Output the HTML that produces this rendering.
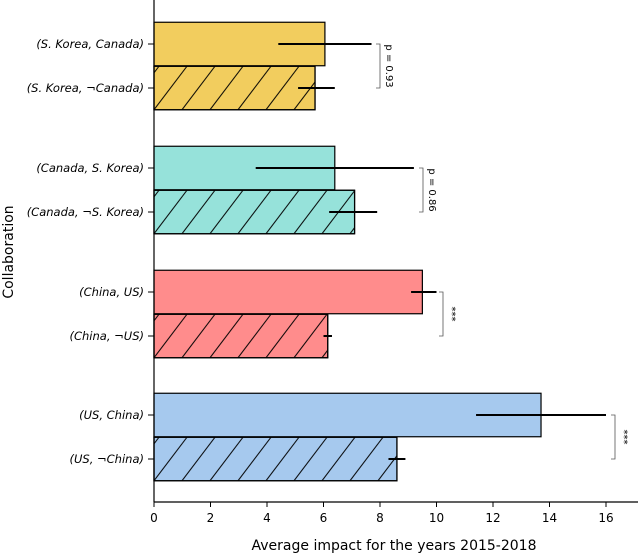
<!DOCTYPE html>
<html><head><meta charset="utf-8"><style>
body{margin:0;background:#fff;}
svg{display:block;font-family:"DejaVu Sans","Liberation Sans",sans-serif;}
</style></head><body>
<svg id="chart" width="640" height="554" xmlns="http://www.w3.org/2000/svg">
<defs id="defs"></defs>
<g id="plot"></g>
</svg>
<script>
const labels = ["(S. Korea, Canada)","(S. Korea, ¬Canada)","(Canada, S. Korea)","(Canada, ¬S. Korea)","(China, US)","(China, ¬US)","(US, China)","(US, ¬China)"];
const values = [6.05, 5.7, 6.4, 7.1, 9.5, 6.15, 13.7, 8.6];
const errLow = [4.4, 5.1, 3.6, 6.2, 9.1, 6.0, 11.4, 8.3];
const errHigh = [7.7, 6.4, 9.2, 7.9, 10.0, 6.3, 16.0, 8.9];
const hatched = [false, true, false, true, false, true, false, true];
const colors = ["#f2cd5e","#f2cd5e","#96e2da","#96e2da","#ff8c8c","#ff8c8c","#a6c9ee","#a6c9ee"];
const centers = [44, 88, 168, 212, 292, 336, 415, 459];
const pLabels = ["p = 0.93","p = 0.86","***","***"];
const bracketX = [380, 423, 443, 615];
const xTicks = [0,2,4,6,8,10,12,14,16];

const NS="http://www.w3.org/2000/svg";
const g=document.getElementById('plot');
const defs=document.getElementById('defs');
const x=v=>154+v*28.25;
const barH=43.5;
function el(t,a,p){const e=document.createElementNS(NS,t);for(const k in a)e.setAttribute(k,a[k]);(p||g).appendChild(e);return e;}

values.forEach((v,i)=>{
  const y0=centers[i]-barH/2;
  const r=el('rect',{x:x(0),y:y0,width:x(v)-x(0),height:barH,fill:colors[i],stroke:'#000','stroke-width':1.2});
  
  
  if(hatched[i]){
    const p=el('pattern',{id:'hatch'+i,patternUnits:'userSpaceOnUse',width:28,height:barH,x:154,y:y0},defs);
    [-28,0,28].forEach(o=>el('line',{x1:o,y1:barH,x2:o+33,y2:0,stroke:'#000','stroke-width':1},p));
    const h=el('rect',{x:x(0),y:y0,width:x(v)-x(0),height:barH,fill:'url(#hatch'+i+')',stroke:'#000','stroke-width':1.2});
    
    
  }
  const e=el('line',{x1:x(errLow[i]),x2:x(errHigh[i]),y1:centers[i],y2:centers[i],stroke:'#000','stroke-width':2});
  
  
  el('line',{x1:148,x2:154,y1:centers[i],y2:centers[i],stroke:'#000'});
  const t=el('text',{x:144,y:centers[i]+4,'text-anchor':'end','font-size':11.5,'font-style':'italic'});
  t.textContent=labels[i];
  
  
});

pLabels.forEach((p,k)=>{
  const y1=centers[2*k],y2=centers[2*k+1],bx=bracketX[k];
  const b=el('path',{d:`M${bx-4},${y1} H${bx} V${y2} H${bx-4}`,fill:'none',stroke:'#555','stroke-width':0.8});
  
  
  const cy=(y1+y2)/2;
  const t=el('text',{x:bx+6,y:cy,'font-size':10,'text-anchor':'middle',transform:`rotate(90 ${bx+6} ${cy})`});
  t.textContent=p;
  
  
});

el('line',{x1:154,x2:154,y1:0,y2:502,stroke:'#000','stroke-width':1.2});
el('line',{x1:154,x2:638,y1:502,y2:502,stroke:'#000','stroke-width':1.2});
xTicks.forEach(v=>{
  el('line',{x1:x(v),x2:x(v),y1:502,y2:507,stroke:'#000'});
  const t=el('text',{x:x(v),y:522,'text-anchor':'middle','font-size':12});
  t.textContent=v;
  
  
});
const xl=el('text',{x:394,y:550,'text-anchor':'middle','font-size':14});
xl.textContent='Average impact for the years 2015-2018';


const yl=el('text',{x:13,y:252,'text-anchor':'middle','font-size':14,transform:'rotate(-90 13 252)'});
yl.textContent='Collaboration';


</script>
</body></html>
